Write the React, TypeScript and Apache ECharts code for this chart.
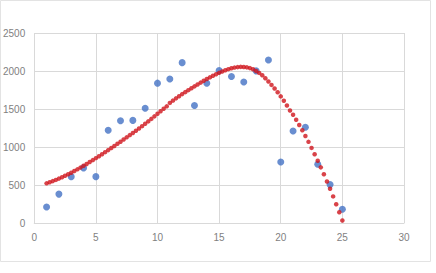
import React, { useEffect, useRef } from "react";
import * as echarts from "echarts";

// Observed data points (blue)
const obsX = [1, 2, 3, 4, 5, 6, 7, 8, 9, 10, 11, 12, 13, 14, 15, 16, 17, 18, 19, 20, 21, 22, 23, 24, 25];
const obsY = [210, 380, 610, 725, 610, 1220, 1345, 1350, 1510, 1840, 1895, 2110, 1545, 1840, 2005, 1928, 1855, 2002, 2145, 803, 1210, 1260, 772, 505, 180];

// Trend curve (red) at 0.25 steps from x = 1 to 25
const trendStart = 1;
const trendStep = 0.25;
const trendY = [
  522, 536, 551, 567, 584, 602, 621, 641, 662, 684, 706, 729, 753, 777, 802, 827,
  853, 879, 905, 932, 959, 986, 1014, 1042, 1070, 1098, 1127, 1156, 1185, 1214, 1244, 1274,
  1305, 1337, 1370, 1403, 1437, 1470, 1503, 1535, 1580, 1610, 1640, 1668, 1696, 1722, 1748, 1773,
  1798, 1823, 1847, 1871, 1894, 1916, 1937, 1957, 1976, 1994, 2010, 2024, 2036, 2045, 2051, 2054,
  2053, 2048, 2038, 2023, 2000, 1975, 1945, 1905, 1862, 1817, 1770, 1720, 1666, 1608, 1546, 1480,
  1425, 1358, 1290, 1220, 1145, 1068, 988, 905, 820, 732, 641, 547, 450, 350, 247, 141, 32,
];

const xTicks = { min: 0, max: 30, interval: 5 };
const yTicks = { min: 0, max: 2500, interval: 500 };

export default function App() {
  const ref = useRef<HTMLDivElement>(null);
  useEffect(() => {
    if (!ref.current) return;
    const chart = echarts.init(ref.current, undefined, { renderer: "svg" });
    const obs = obsX.map((x, i) => [x, obsY[i]]);
    const trend = trendY.map((y, i) => [trendStart + i * trendStep, y]);
    const labelStyle = {
      color: "#7f7f7f",
      fontSize: 10,
      fontFamily: "Liberation Sans",
      formatter: (v: number) => String(v),
    };
    chart.setOption({
      animation: false,
      backgroundColor: "#ffffff",
      graphic: [
        {
          type: "rect",
          shape: { x: 0.5, y: 0.5, width: 430, height: 261 },
          style: { fill: "none", stroke: "#e3e3e3", lineWidth: 1 },
          silent: true,
        },
      ],
      grid: { left: 34, right: 32, top: 33, bottom: 50 },
      xAxis: {
        type: "value",
        min: xTicks.min,
        max: xTicks.max,
        interval: xTicks.interval,
        axisLine: { show: true, lineStyle: { color: "#d9d9d9" } },
        axisTick: { show: false },
        axisLabel: { ...labelStyle, margin: 9 },
        splitLine: { show: true, lineStyle: { color: "#d9d9d9" } },
      },
      yAxis: {
        type: "value",
        min: yTicks.min,
        max: yTicks.max,
        interval: yTicks.interval,
        axisLine: { show: false },
        axisTick: { show: false },
        axisLabel: { ...labelStyle, margin: 9 },
        splitLine: { show: true, lineStyle: { color: "#d9d9d9" } },
      },
      series: [
        {
          type: "scatter",
          data: obs,
          symbolSize: 7,
          itemStyle: { color: "#4472c4" },
        },
        {
          type: "scatter",
          data: trend,
          symbolSize: 4.5,
          itemStyle: { color: "#d0141c" },
        },
      ],
    });
    return () => chart.dispose();
  }, []);
  return (
    <div
      ref={ref}
      style={{ position: "fixed", left: 0, top: 0, width: 436, height: 273 }}
    />
  );
}
